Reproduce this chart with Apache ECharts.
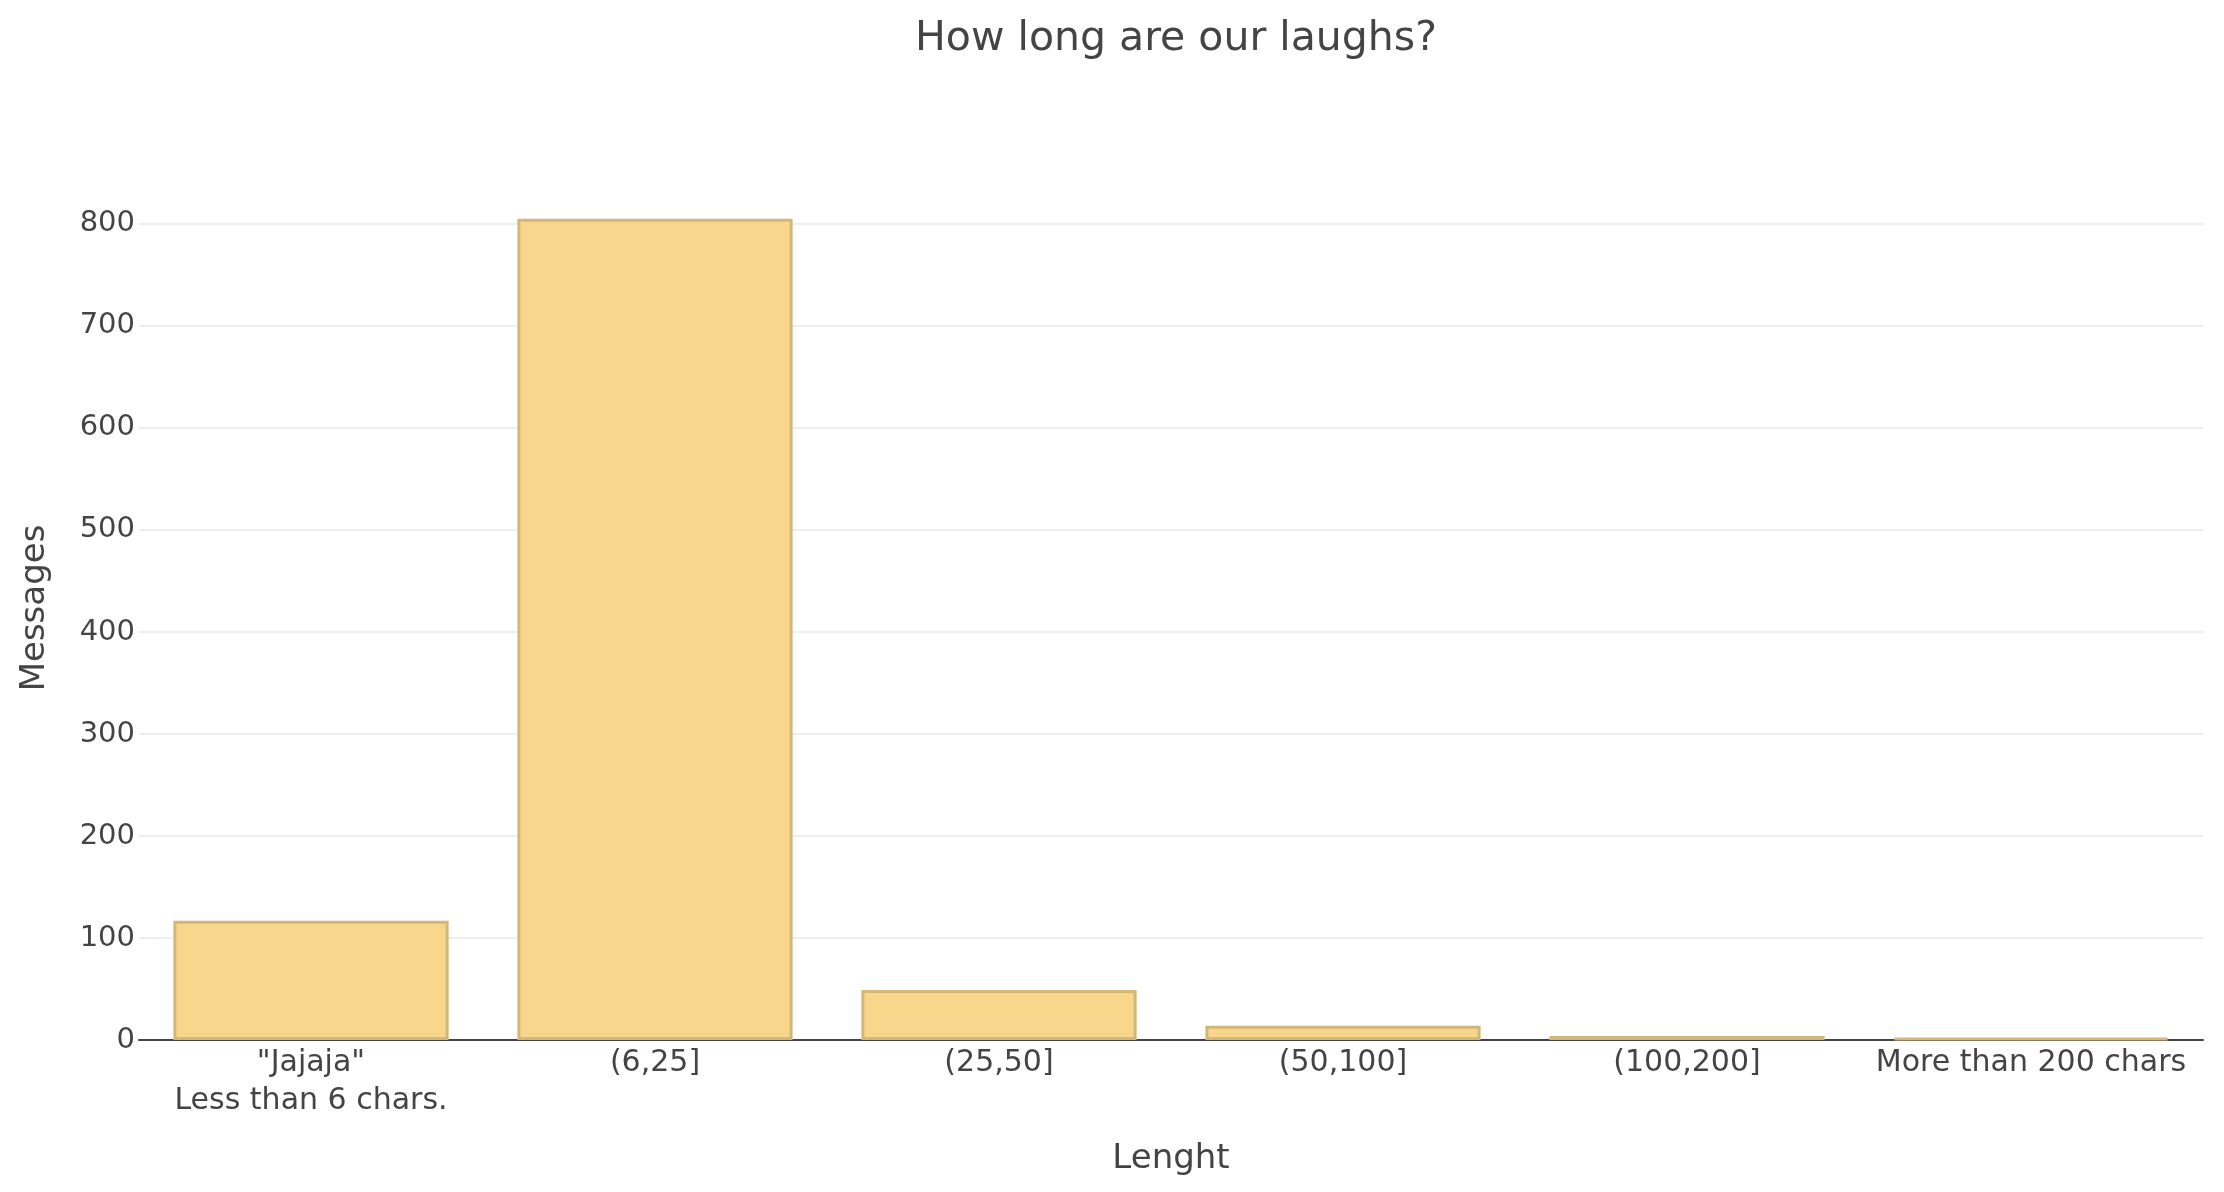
<!DOCTYPE html>
<html>
<head>
<meta charset="utf-8">
<title>How long are our laughs?</title>
<script src="https://cdn.jsdelivr.net/npm/echarts@6/dist/echarts.min.js"></script>
<style>
  html, body { margin: 0; padding: 0; background: #fff; }
  #main { width: 2224px; height: 1192px; }
</style>
</head>
<body>
<div id="main"></div>
<script>
// data
var categories = ['"Jajaja"\nLess than 6 chars.', '(6,25]', '(25,50]', '(50,100]', '(100,200]', 'More than 200 chars'];
var messages = [117, 805, 49, 14, 4, 2];
var yTicks = [0, 100, 200, 300, 400, 500, 600, 700, 800];

var textColor = '#444';
var font = 'DejaVu Sans, Verdana, sans-serif';

var myChart = echarts.init(document.getElementById('main'));
myChart.setOption({
    animation: false,
    backgroundColor: '#fff',
    title: {
        text: 'How long are our laughs?',
        left: 1171,
        textAlign: 'center',
        top: 14,
        textStyle: { color: textColor, fontFamily: font, fontSize: 41, fontWeight: 'normal' }
    },
    grid: {
        left: 139,
        right: 21,
        top: 176,
        bottom: 152
    },
    xAxis: {
        type: 'category',
        data: categories,
        name: 'Lenght',
        nameLocation: 'middle',
        nameGap: 102,
        nameTextStyle: { color: textColor, fontFamily: font, fontSize: 34 },
        axisLine: { show: true, lineStyle: { color: textColor, width: 2 } },
        axisTick: { show: false },
        axisLabel: {
            color: textColor,
            fontFamily: font,
            fontSize: 30,
            lineHeight: 38,
            margin: 4,
            interval: 0
        }
    },
    yAxis: {
        type: 'value',
        min: 0,
        max: 847,
        interval: 100,
        name: 'Messages',
        nameLocation: 'middle',
        nameGap: 87,
        nameTextStyle: { color: textColor, fontFamily: font, fontSize: 34 },
        axisLine: { show: false },
        axisTick: { show: false },
        axisLabel: {
            color: textColor,
            fontFamily: font,
            fontSize: 29,
            margin: 4,
            showMaxLabel: false,
            formatter: function (v) {
                return yTicks.indexOf(v) > -1 ? String(v) : '';
            }
        },
        splitLine: {
            showMinLine: false,
            showMaxLine: false,
            lineStyle: { color: '#eeeeee', width: 2 }
        }
    },
    series: [
        {
            name: 'Messages',
            type: 'bar',
            data: messages,
            barCategoryGap: '20%',
            itemStyle: {
                color: 'rgb(248,214,139)',
                borderColor: 'rgb(210,182,122)',
                borderWidth: 3
            }
        }
    ]
});
</script>
</body>
</html>
